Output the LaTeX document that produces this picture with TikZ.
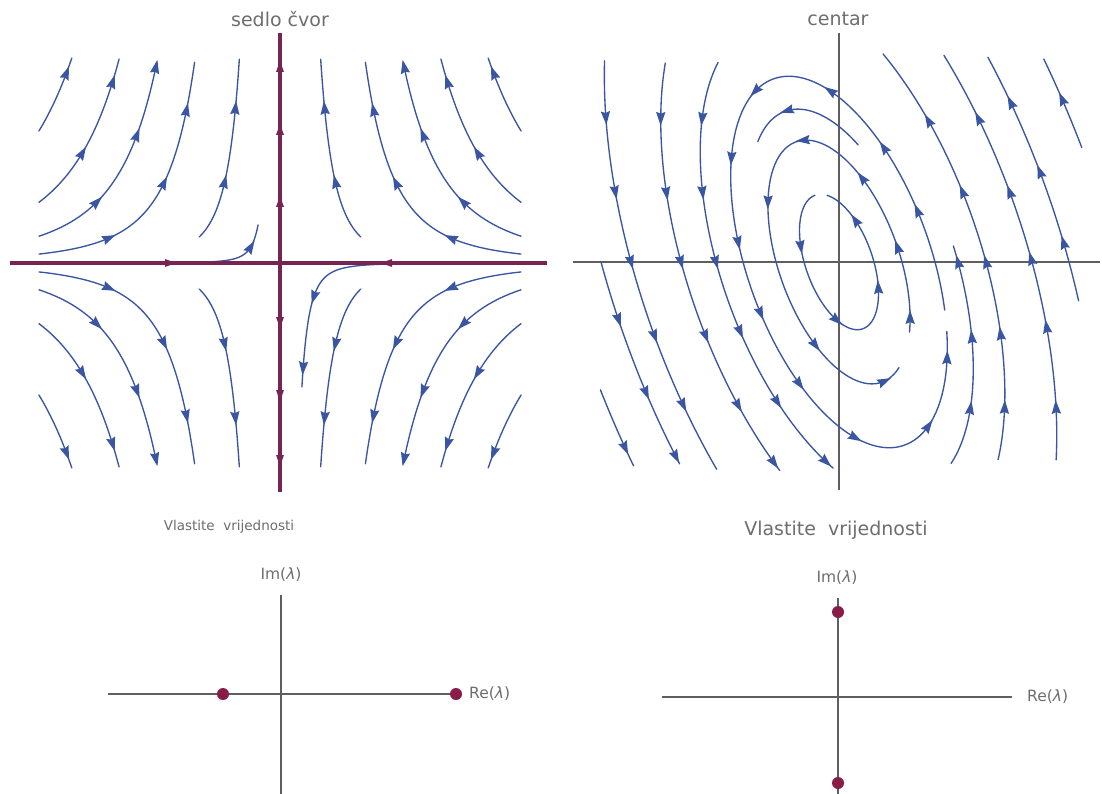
\documentclass[tikz,border=0pt]{standalone}
\usepackage{fontspec}
\setmainfont{DejaVu Sans}
\definecolor{sblue}{RGB}{58,86,162}
\definecolor{axpur}{RGB}{118,36,82}
\definecolor{dotc}{RGB}{138,28,74}
\definecolor{txtg}{RGB}{110,110,110}
\definecolor{axg}{RGB}{95,95,95}
\tikzset{
 stream/.style={sblue, line width=1.35pt, line cap=round},
 paxis/.style={axpur, line width=3.3pt},
 gaxis/.style={axg, line width=1.3pt},
 ttl/.style={txtg, font=\fontsize{19}{22}\selectfont, inner sep=0pt},
 ttlsmall/.style={txtg, font=\fontsize{13.5}{16}\selectfont, inner sep=0pt},
 lbl/.style={txtg, font=\fontsize{15.5}{18}\selectfont, inner sep=0pt},
 evdot/.style={circle, fill=dotc, minimum size=12pt, inner sep=0pt},
}
% saddle streamline v = c u^{-3}, V from #2 to #3 (upper-left orientation)
\newcommand\SadLine[3]{\draw[stream] plot[domain=0:1, samples=50, smooth, variable=\t]
 ({-100*exp((ln(#1/#2)-\t*ln(#3/#2))/3)},{-100*#2*exp(\t*ln(#3/#2))});}
\newcommand\ArrHead{(7.2pt,0pt) -- (-6.6pt,4.7pt) -- (-4.8pt,0pt) -- (-6.6pt,-4.7pt) -- cycle}
\newcommand\SadArr[2]{\pgfmathsetmacro\SAu{100*exp(ln(#1/#2)/3)}%
 \pgfmathsetmacro\SAa{atan2(300*#2,\SAu)}%
 \fill[sblue, shift={(-\SAu,{-100*#2})}, rotate=\SAa] \ArrHead;}
\newcommand\PurArr[3]{\fill[axpur, shift={(#1,#2)}, rotate=#3] (6pt,0pt) -- (-5pt,4pt) -- (-5pt,-4pt) -- cycle;}
\newcommand\SadQuad{%
 \SadLine{18.5}{1.32}{2.05}\SadArr{18.5}{1.90}%
 \SadLine{8.5}{0.607}{2.04}\SadArr{8.5}{1.10}\SadArr{8.5}{1.81}%
 \SadLine{3.75}{0.268}{2.01}\SadArr{3.75}{0.61}\SadArr{3.75}{1.28}\SadArr{3.75}{1.96}%
 \SadLine{1.25}{0.0893}{2.01}\SadArr{1.25}{0.25}\SadArr{1.25}{0.80}\SadArr{1.25}{1.53}%
 \SadLine{0.137}{0.26}{2.04}\SadArr{0.137}{0.81}\SadArr{0.137}{1.55}}
% centre: ellipse orbits
\newcommand\CenLine[3]{\draw[stream] plot[domain=#2:#3, samples=90, smooth, variable=\t]
 ({#1*(cos(\t)-0.5225*sin(\t))},{-1.935*#1*sin(\t)});}
\newcommand\CenArr[2]{\pgfmathsetmacro\CAx{#1*(cos(#2)-0.5225*sin(#2))}%
 \pgfmathsetmacro\CAy{-1.935*#1*sin(#2)}%
 \pgfmathsetmacro\CAa{atan2(1.935*cos(#2),-sin(#2)-0.5225*cos(#2))}%
 \fill[sblue, shift={(\CAx,\CAy)}, rotate=\CAa] \ArrHead;}
\begin{document}
\begin{tikzpicture}[x=1pt,y=-1pt]
\useasboundingbox[fill=white] (0,0) rectangle (1102,794);
% ---------------- saddle panel ----------------
\node[ttl] (t1) at (280,19) {sedlo čvor};
\begin{scope}[shift={(280,263)}]
 \SadQuad
 \SadLine{0.004}{0.0012}{0.38}\SadArr{0.004}{0.16}
\end{scope}
\begin{scope}[shift={(280,263)}, xscale=-1]\SadQuad\end{scope}
\begin{scope}[shift={(280,263)}, yscale=-1]\SadQuad\end{scope}
\begin{scope}[shift={(280,263)}, xscale=-1, yscale=-1]
 \SadQuad
 \SadLine{0.013}{0.0039}{1.24}\SadArr{0.013}{0.34}\SadArr{0.013}{1.05}
\end{scope}
\coordinate (sl) at (10,263); \coordinate (sr) at (547,263);
\coordinate (st) at (280,33); \coordinate (sb) at (280,492);
\draw[paxis] (sl) -- (sr);
\draw[paxis] (st) -- (sb);
\PurArr{280}{67}{90}\PurArr{280}{130}{90}\PurArr{280}{202}{90}
\PurArr{280}{322}{-90}\PurArr{280}{395}{-90}\PurArr{280}{460}{-90}
\PurArr{170}{263}{0}\PurArr{387}{263}{180}
% ---------------- centre panel ----------------
\node[ttl] (t2) at (838,19) {centar};
\coordinate (cl) at (573,262); \coordinate (cr) at (1100,262);
\coordinate (ct) at (839,33); \coordinate (cb) at (839,490);
\draw[gaxis] (cl) -- (cr);
\draw[gaxis] (ct) -- (cb);
\begin{scope}[shift={(839,262)}]
 \CenLine{281}{193.6}{202}\CenArr{281}{200}
 \CenLine{238}{180}{206}\CenArr{238}{187.2}\CenArr{238}{196.5}\CenArr{238}{205}
 \CenLine{208}{150}{211}\CenArr{208}{159}\CenArr{208}{170}\CenArr{208}{180}\CenArr{208}{190.6}\CenArr{208}{200.8}
 \CenLine{158}{139.4}{223}\CenArr{158}{152}\CenArr{158}{167}\CenArr{158}{180}\CenArr{158}{194}\CenArr{158}{208}\CenArr{158}{221}
 \CenLine{123}{123}{240}\CenArr{123}{143}\CenArr{123}{163}\CenArr{123}{180}\CenArr{123}{197}\CenArr{123}{216}\CenArr{123}{237}
 \CenLine{96}{-15}{338}\CenArr{96}{16}\CenArr{96}{38}\CenArr{96}{67}\CenArr{96}{113}\CenArr{96}{146}\CenArr{96}{174}\CenArr{96}{196}\CenArr{96}{221}\CenArr{96}{251}\CenArr{96}{298}\CenArr{96}{329}
 \CenLine{79}{50}{128}\CenArr{79}{98}
 \CenLine{63}{-35}{300}\CenArr{63}{-27}\CenArr{63}{7}\CenArr{63}{43.5}\CenArr{63}{92.7}\CenArr{63}{150.5}\CenArr{63}{223}\CenArr{63}{282}
 \CenLine{35}{100}{440}\CenArr{35}{167}\CenArr{35}{239}\CenArr{35}{338}\CenArr{35}{398}
 \CenLine{119}{-61}{4}\CenArr{119}{-39.4}\CenArr{119}{-19}\CenArr{119}{0}
 \CenLine{147}{-44}{47}\CenArr{147}{-30.7}\CenArr{147}{-14.6}\CenArr{147}{0}\CenArr{147}{14.3}\CenArr{147}{29.8}
 \CenLine{193}{-32}{33.6}\CenArr{193}{-22.9}\CenArr{193}{-10}\CenArr{193}{0.5}\CenArr{193}{10.8}\CenArr{193}{22.6}
 \CenLine{230}{-5}{27.4}\CenArr{230}{2.5}\CenArr{230}{11.7}\CenArr{230}{21}
 \CenLine{280}{12.2}{22}\CenArr{280}{17.5}
\end{scope}
% ---------------- eigenvalue plots ----------------
\node[ttlsmall] (v1) at (229,527) {Vlastite\ \ vrijednosti};
\node[ttl] (v2) at (836,530) {Vlastite\ \ vrijednosti};
% left
\coordinate (el) at (108,694); \coordinate (er) at (456,694);
\coordinate (et) at (281,595); \coordinate (eb) at (281,794);
\draw[gaxis] (el) -- (er);
\draw[gaxis] (et) -- (eb);
\node[evdot] (d1) at (223,694) {};
\node[evdot] (d2) at (456,694) {};
\node[lbl] (im1) at (281,575) {Im(\textit{λ})};
\node[lbl, anchor=west] (re1) at (469,694) {Re(\textit{λ})};
% right
\coordinate (fl) at (662,697); \coordinate (fr) at (1012,697);
\coordinate (ft) at (838,598); \coordinate (fb) at (838,794);
\draw[gaxis] (fl) -- (fr);
\draw[gaxis] (ft) -- (fb);
\node[evdot] (d3) at (838,612) {};
\node[evdot] (d4) at (838,783) {};
\node[lbl] (im2) at (837,578) {Im(\textit{λ})};
\node[lbl, anchor=west] (re2) at (1027,697) {Re(\textit{λ})};
\end{tikzpicture}
\end{document}
